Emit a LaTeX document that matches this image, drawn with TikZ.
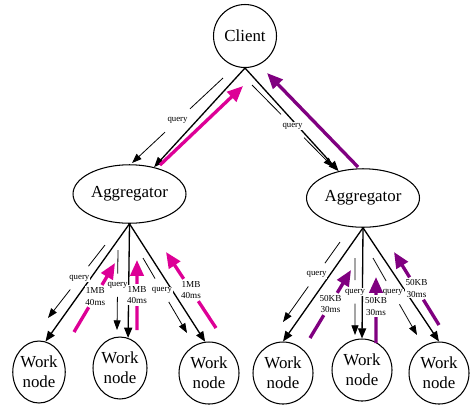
\documentclass[tikz,border=0pt]{standalone}
\usepackage{fontspec}
\setmainfont{Liberation Serif}
\usetikzlibrary{calc}
\usetikzlibrary{arrows.meta}
\usetikzlibrary{shapes.geometric}
\definecolor{resp-magenta}{RGB}{221, 0, 150}
\definecolor{resp-purple}{RGB}{128, 0, 128}

\begin{document}
\begin{tikzpicture}[x=0.02cm, y=-0.02cm,
        box/.style={draw, line width=0.6pt, inner sep=0pt, align=center, font=\fontsize{9.6}{11.4}\selectfont},
        wrk/.style={box, ellipse, minimum width=1.2cm, minimum height=1.24cm},
        agg/.style={box, ellipse, minimum width=2.26cm, minimum height=1.17cm},
        link/.style={line width=0.75pt, -{Triangle[length=5.8pt, width=4.6pt]}},
        qry/.style={line width=0.45pt, -{Triangle[length=5.5pt, width=4pt]}},
        resp/.style={line width=1.9pt, -{Triangle[length=9pt, width=7.5pt]}},
        qlbl/.style={fill=white, inner sep=0.4pt, outer ysep=4.5pt, outer xsep=1pt, font=\fontsize{5}{6}\selectfont},
        rlbl/.style={fill=white, inner sep=0.4pt, outer ysep=0.8pt, outer xsep=0.5pt, align=center, font=\fontsize{5.2}{6.8}\selectfont}]
    \useasboundingbox (0, 0) rectangle (475, 407);

    \node[box, circle, minimum size=1.26cm] (cl) at (245, 36) {Client};
    \node[agg] (ag1) at (129.5, 194) {Aggregator};
    \node[agg] (ag2) at (363, 198) {Aggregator};
    \node[wrk, minimum width=1.05cm] (w1) at (39, 372) {Work\\node};
    \node[wrk, minimum width=1.08cm] (w2) at (120, 368) {Work\\node};
    \node[wrk] (w3) at (209, 373) {Work\\node};
    \node[wrk] (w4) at (283, 373) {Work\\node};
    \node[wrk] (w5) at (362, 370) {Work\\node};
    \node[wrk] (w6) at (439, 373) {Work\\node};

    % tree edges
    \draw[link] (cl.south) -- (ag1);
    \draw[link] (cl.south) -- (ag2);
    \draw[link] (ag1.south) -- (w1.78);
    \draw[link] (ag1.south) -- (w2.75);
    \draw[link] (ag1.south) -- (w3.97);
    \draw[link] (ag2.south) -- (w4.north);
    \draw[link] (ag2.south) -- (w5.north);
    \draw[link] (ag2.south) -- (w6.north);

    % queries going down
    \foreach \n/\xa/\ya/\xb/\yb/\p in {qt1/223/78/132/163/.5, qt2/252/85/333/167/.5,
            ql1/105/245/48/318/.45, ql2/118/250/117/330/.44, ql3/143/258/187/333/.43,
            qr1/340/242/283/322/.41, qr2/355/258/355/335/.44, qr3/373/258/417/335/.45} {
        \coordinate (\n-s) at (\xa, \ya);
        \coordinate (\n-e) at (\xb, \yb);
        \node[qlbl] (\n-l) at ($(\n-s)!\p!(\n-e)$) {query};
        \draw[qry] (\n-s) -- (\n-l) -- (\n-e);
    }

    % answers going up
    \coordinate (mt-s) at (160, 165);
    \coordinate (mt-e) at (243, 86);
    \draw[resp, resp-magenta] (mt-s) -- (mt-e);
    \coordinate (pt-s) at (358, 167);
    \coordinate (pt-e) at (267, 73);
    \draw[resp, resp-purple] (pt-s) -- (pt-e);

    \foreach \n/\xa/\ya/\xb/\yb/\p in {ml1/74/332/115/263/.52, ml2/137/330/137/260/.5, ml3/216/328/166/252/.5} {
        \coordinate (\n-s) at (\xa, \ya);
        \coordinate (\n-e) at (\xb, \yb);
        \node[rlbl] (\n-l) at ($(\n-s)!\p!(\n-e)$) {1MB\\40ms};
        \draw[resp, resp-magenta] (\n-s) -- (\n-l) -- (\n-e);
    }
    \foreach \n/\xa/\ya/\xb/\yb/\p in {pr1/310/338/351/270/.5, pr2/376/343/376/277/.56, pr3/439/325/394/252/.5} {
        \coordinate (\n-s) at (\xa, \ya);
        \coordinate (\n-e) at (\xb, \yb);
        \node[rlbl] (\n-l) at ($(\n-s)!\p!(\n-e)$) {50KB\\30ms};
        \draw[resp, resp-purple] (\n-s) -- (\n-l) -- (\n-e);
    }
\end{tikzpicture}
\end{document}
